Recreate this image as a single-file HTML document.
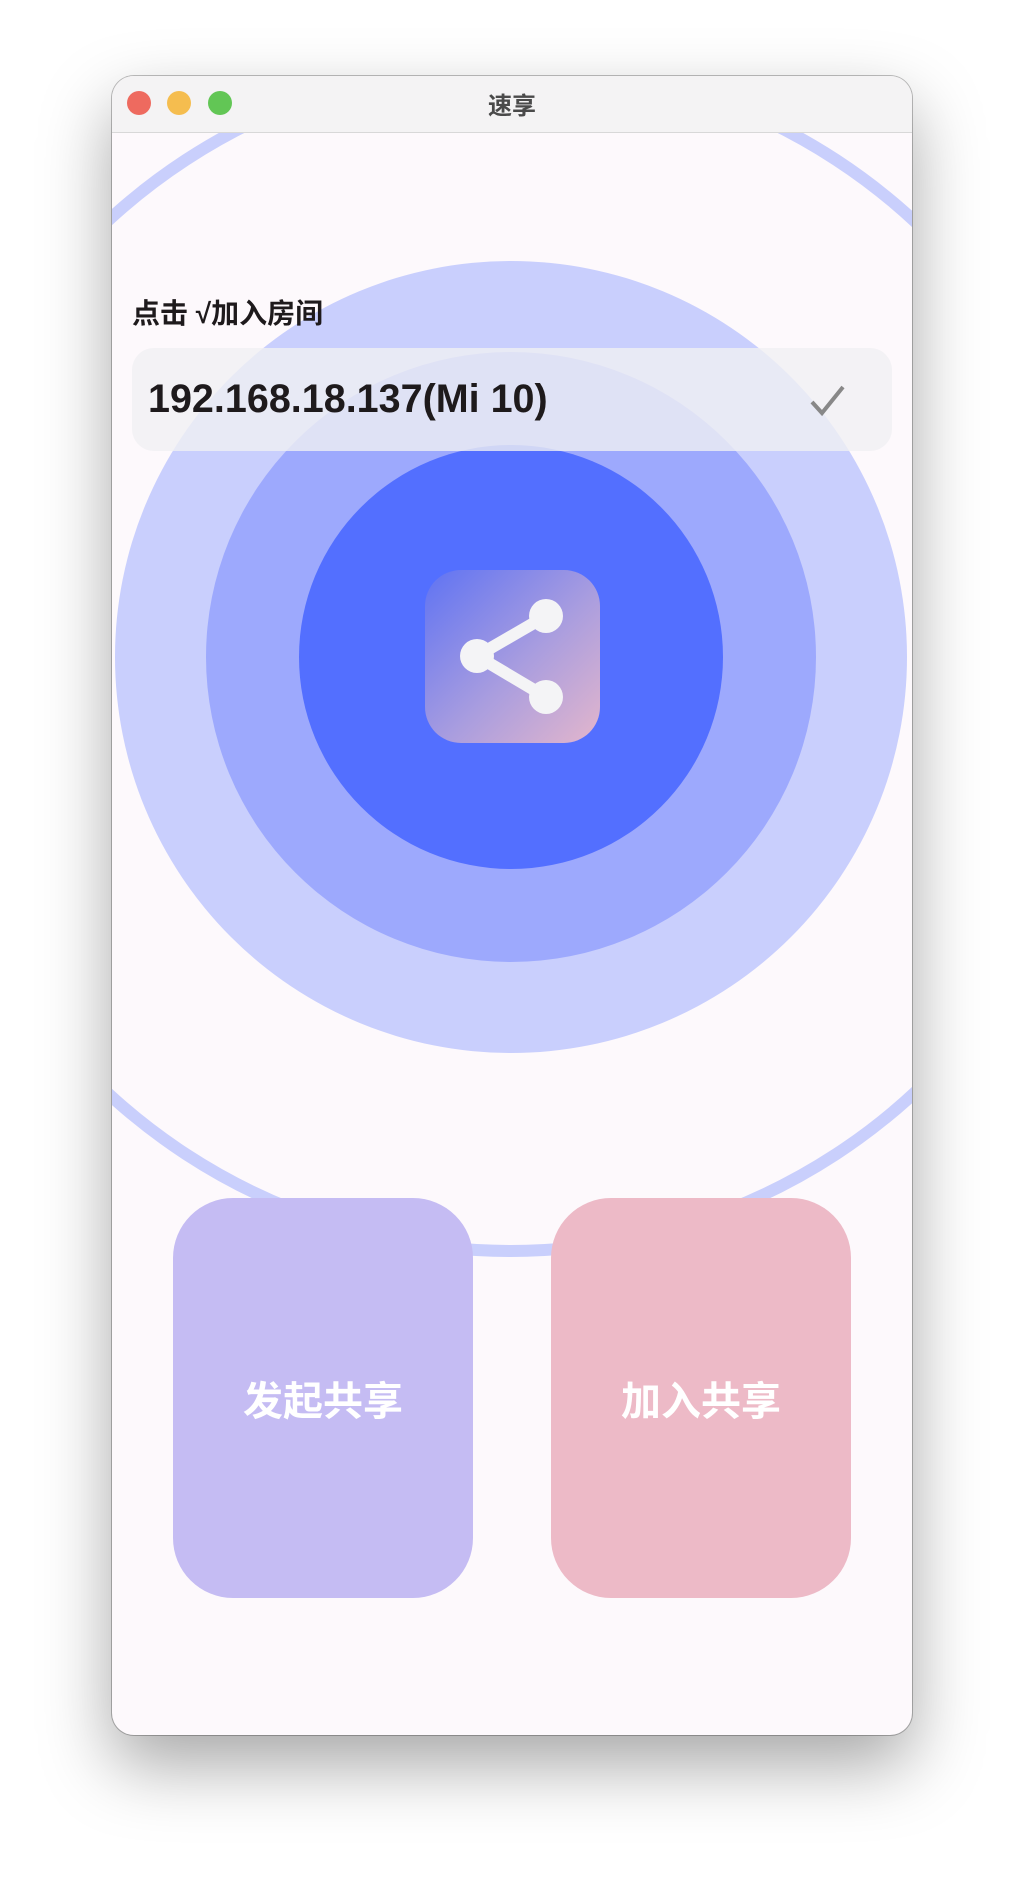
<!DOCTYPE html>
<html><head><meta charset="utf-8"><style>
body{margin:0;width:1024px;height:1882px;background:#fff;position:relative;overflow:hidden;font-family:"Liberation Sans","Noto Sans CJK SC",sans-serif}
.win{position:absolute;left:112px;top:76px;width:800px;height:1659px;border-radius:22px;background:#fdf9fc;overflow:hidden;box-shadow:0 30px 70px rgba(0,0,0,0.35),0 0 0 1px rgba(0,0,0,0.25)}
.tb{position:absolute;left:0;top:0;width:800px;height:56px;background:#f4f3f4;border-bottom:1px solid #d8d8d8;z-index:5}
.tl{position:absolute;top:15px;width:24px;height:24px;border-radius:50%}
.title{position:absolute;left:0;right:0;top:10px;text-align:center;font-size:24px;color:#4a4a4a;font-weight:bold}
.c{position:absolute;border-radius:50%}
.btn{position:absolute;top:1122px;width:300px;height:400px;border-radius:60px;color:#fff;font-size:40px;font-weight:bold;display:flex;align-items:center;justify-content:center}
</style></head><body>
<div class="win">
 <div class="c" style="left:-201px;top:-19px;width:1200px;height:1200px;box-sizing:border-box;border:12px solid #c9cffc"></div>
 <div class="c" style="left:3px;top:185px;width:792px;height:792px;background:#c9cffd"></div>
 <div class="c" style="left:94px;top:276px;width:610px;height:610px;background:#9da9fd"></div>
 <div class="c" style="left:187px;top:369px;width:424px;height:424px;background:#536fff"></div>
 <div style="position:absolute;left:313px;top:494px;width:175px;height:173px;border-radius:36px;background:linear-gradient(135deg,#5f73f3,#a99ddf 55%,#e3b6cc)"></div>
 <svg style="position:absolute;left:0;top:0" width="800" height="800">
  <g stroke="#f4f4f6" stroke-width="12"><line x1="365" y1="580" x2="434" y2="540"/><line x1="365" y1="580" x2="434" y2="621"/></g>
  <g fill="#f4f4f6"><circle cx="365" cy="580" r="17"/><circle cx="434" cy="540" r="17"/><circle cx="434" cy="621" r="17"/></g>
 </svg>
 <div style="position:absolute;left:20px;top:216px;font-size:28px;font-weight:bold;color:#1e1a1c">点击 √加入房间</div>
 <div style="position:absolute;left:20px;top:272px;width:760px;height:103px;border-radius:22px;background:rgba(240,240,242,0.8)"></div>
 <div style="position:absolute;left:36px;top:301px;font-size:39.5px;font-weight:bold;color:#1e1a1c">192.168.18.137(Mi 10)</div>
 <svg style="position:absolute;left:696px;top:306px" width="40" height="36"><polyline points="4,20 14,31 35,5" fill="none" stroke="#888" stroke-width="4"/></svg>
 <div class="tb"><div class="tl" style="left:15px;background:#ee6a5f"></div><div class="tl" style="left:55px;background:#f5bd4f"></div><div class="tl" style="left:96px;background:#62c655"></div><div class="title">速享</div></div>
 <div class="btn" style="left:61px;background:#c5bcf3">发起共享</div>
 <div class="btn" style="left:439px;background:#edbac7">加入共享</div>
</div>
</body></html>
